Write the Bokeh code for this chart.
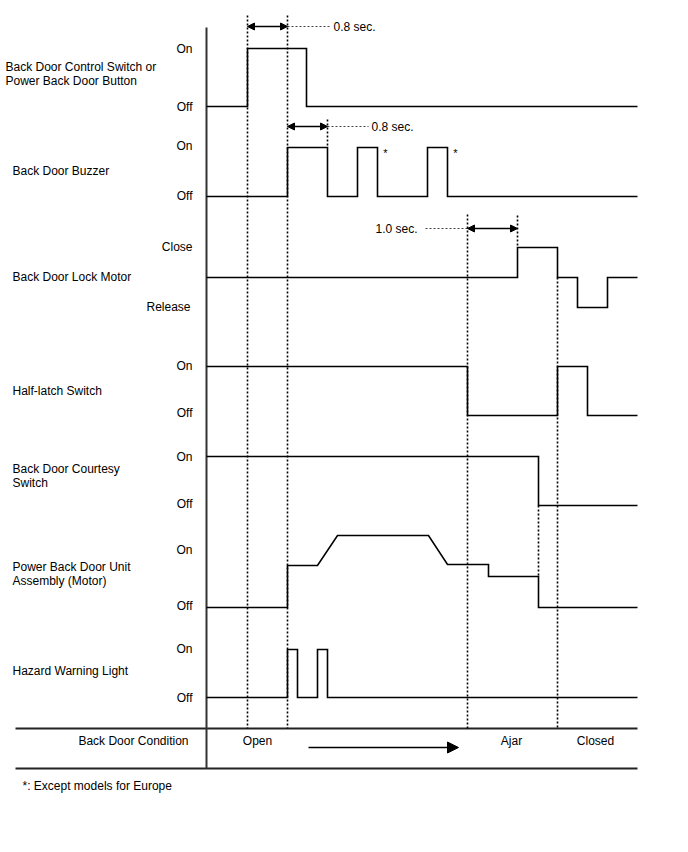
from bokeh.plotting import figure
from bokeh.models import Range1d, Arrow, NormalHead
from bokeh.core.properties import value
from bokeh.embed import file_html
from bokeh.resources import INLINE

FONT = value("Liberation Sans")
FS = "12px"

# ---- Data (time axis in diagram units, levels per signal) ----
# Back Door Control Switch or Power Back Door Button
sw_t = [206, 247, 247, 306, 306, 637]
sw_y = [106, 106, 48, 48, 106, 106]
# Back Door Buzzer
bz_t = [206, 287, 287, 327, 327, 357, 357, 377, 377, 427, 427, 447, 447, 637]
bz_y = [196, 196, 147, 147, 196, 196, 147, 147, 196, 196, 147, 147, 196, 196]
# Back Door Lock Motor
lm_t = [206, 517, 517, 557, 557, 577, 577, 607, 607, 637]
lm_y = [277, 277, 247, 247, 277, 277, 307, 307, 277, 277]
# Half-latch Switch
hl_t = [206, 467, 467, 557, 557, 587, 587, 637]
hl_y = [366, 366, 415, 415, 366, 366, 415, 415]
# Back Door Courtesy Switch
cs_t = [206, 538, 538, 637]
cs_y = [456, 456, 505, 505]
# Power Back Door Unit Assembly (Motor)
mo_t = [206, 287, 287, 317, 337, 428, 447, 488, 488, 538, 538, 637]
mo_y = [607, 607, 565, 565, 535, 535, 564, 564, 576, 576, 607, 607]
# Hazard Warning Light
hz_t = [206, 287, 287, 297, 297, 317, 317, 327, 327, 637]
hz_y = [697, 697, 649, 649, 697, 697, 649, 649, 697, 697]

signals_t = [sw_t, bz_t, lm_t, hl_t, cs_t, mo_t, hz_t]
signals_y = [sw_y, bz_y, lm_y, hl_y, cs_y, mo_y, hz_y]

# Signal names (left column)
name_text = ["Back Door Control Switch or", "Power Back Door Button", "Back Door Buzzer",
             "Back Door Lock Motor", "Half-latch Switch", "Back Door Courtesy", "Switch",
             "Power Back Door Unit", "Assembly (Motor)", "Hazard Warning Light"]
name_x = [5, 5, 12, 12, 12, 12, 12, 12, 12, 12]
name_y = [66, 80, 170, 276, 390, 468, 482, 566, 580, 670]

# Level labels
lvl_text = ["On", "Off", "On", "Off", "Close", "Release", "On", "Off", "On", "Off", "On", "Off", "On", "Off"]
lvl_x = [192, 192, 192, 192, 192, 190, 192, 192, 192, 192, 192, 192, 192, 192]
lvl_y = [48, 106, 145, 195, 246, 306, 365, 412, 456, 503, 549, 605, 648, 697]

# Timing markers (dotted verticals)
mk_x = [247, 287, 327, 517, 467, 557, 538]
mk_y0 = [15, 15, 119, 215, 214, 277, 505]
mk_y1 = [728, 728, 147, 247, 728, 728, 576]

# Duration annotations
dur_x0 = [247, 287, 467]
dur_x1 = [287, 327, 517]
dur_y = [26, 126, 228]
lead_x0 = [287, 327, 425]
lead_x1 = [329, 368, 467]
dur_text = ["0.8 sec.", "0.8 sec.", "1.0 sec."]
dur_tx = [333, 371, 375]

# Back door condition row
cond_text = ["Open", "Ajar", "Closed"]
cond_x = [257, 511, 595]
cond_y = 740
row_lines_y = [728, 768]

p = figure(width=672, height=836, output_backend="svg", toolbar_location=None,
           x_range=Range1d(0, 672), y_range=Range1d(836, 0),
           min_border=0, background_fill_color="white", border_fill_color="white")
p.axis.visible = False
p.grid.visible = False
p.outline_line_color = None

# table frame
p.segment(x0=[15, 15], y0=row_lines_y, x1=[637, 637], y1=row_lines_y,
          line_color="#222222", line_width=2)
p.segment(x0=[206], y0=[27], x1=[206], y1=[768], line_color="#333333", line_width=2)

# dotted markers
p.segment(x0=mk_x, y0=mk_y0, x1=mk_x, y1=mk_y1, line_color="black",
          line_width=1.6, line_dash="2 2")

# signals
for t, y in zip(signals_t, signals_y):
    p.line(t, y, line_color="black", line_width=1.6, line_join="miter")

# duration arrows
for x0, x1, y in zip(dur_x0, dur_x1, dur_y):
    p.add_layout(Arrow(x_start=x0, y_start=y, x_end=x1, y_end=y, line_width=1.4,
                       start=NormalHead(size=7, fill_color="black", line_color="black"),
                       end=NormalHead(size=7, fill_color="black", line_color="black")))
p.segment(x0=lead_x0, y0=dur_y, x1=lead_x1, y1=dur_y, line_color="#444444",
          line_width=1, line_dash="2 2")
p.text(x=dur_tx, y=dur_y, text=dur_text, text_font=FONT, text_font_size=FS,
       text_align="left", text_baseline="middle", text_color="black")

# asterisks
p.text(x=[385, 455], y=[152, 152], text=["*", "*"], text_font=FONT, text_font_size="11px",
       text_align="center", text_baseline="middle", text_color="black")

# labels
p.text(x=name_x, y=name_y, text=name_text, text_font=FONT, text_font_size=FS,
       text_align="left", text_baseline="middle", text_color="black")
p.text(x=lvl_x, y=lvl_y, text=lvl_text, text_font=FONT, text_font_size=FS,
       text_align="right", text_baseline="middle", text_color="black")

# condition row
p.text(x=[188], y=[cond_y], text=["Back Door Condition"], text_font=FONT, text_font_size=FS,
       text_align="right", text_baseline="middle", text_color="black")
p.text(x=cond_x, y=[cond_y] * 3, text=cond_text, text_font=FONT, text_font_size=FS,
       text_align="center", text_baseline="middle", text_color="black")
p.add_layout(Arrow(x_start=308, y_start=747, x_end=458, y_end=747, line_width=1.6,
                   end=NormalHead(size=11, fill_color="black", line_color="black")))

# footnote
p.text(x=[22], y=[785], text=["*: Except models for Europe"], text_font=FONT, text_font_size=FS,
       text_align="left", text_baseline="middle", text_color="black")

open("out.html", "w").write(file_html(p, INLINE))
